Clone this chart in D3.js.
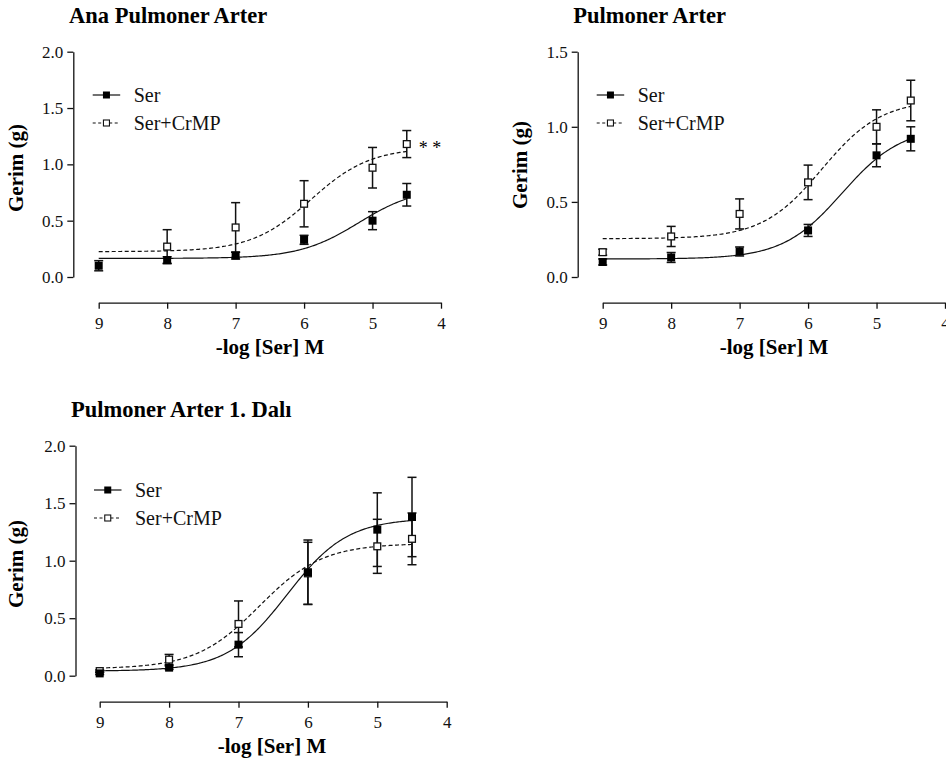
<!DOCTYPE html>
<html>
<head>
<meta charset="utf-8">
<script src="https://cdn.jsdelivr.net/npm/d3@7"></script>
<style>
  html, body { margin: 0; padding: 0; background: #fff; overflow: hidden; }
  svg { display: block; }
  svg text { font-family: "Liberation Serif", "Times New Roman", Times, serif; }
</style>
</head>
<body>
<svg id="chart" width="946" height="762"></svg>
<script>
// -log molar concentration of serotonin at each dose
const logDoses = [9, 8, 7, 6, 5, 4.5];
const xTickValues = [9, 8, 7, 6, 5, 4];

// Ana Pulmoner Arter — mean tension (g) and SEM
const anaSer = [0.10, 0.15, 0.19, 0.33, 0.50, 0.73];
const anaSerErr = [0.045, 0.03, 0.03, 0.04, 0.08, 0.10];
const anaCrmp = [null, 0.27, 0.44, 0.65, 0.97, 1.18];
const anaCrmpErr = [null, 0.15, 0.22, 0.205, 0.18, 0.12];
// sigmoidal fit parameters: bottom, top, pEC50, Hill slope
const anaSerFit = [0.165, 0.80, 5.2, 1.0];
const anaCrmpFit = [0.225, 1.15, 5.9, 1.0];

// Pulmoner Arter
const paSer = [0.10, 0.13, 0.17, 0.31, 0.81, 0.92];
const paSerErr = [0.02, 0.033, 0.03, 0.04, 0.076, 0.08];
const paCrmp = [0.165, 0.27, 0.42, 0.63, 1.00, 1.175];
const paCrmpErr = [0.02, 0.067, 0.10, 0.115, 0.113, 0.135];
const paSerFit = [0.12, 1.00, 5.5, 1.0];
const paCrmpFit = [0.255, 1.18, 5.8, 1.0];

// Pulmoner Arter 1. Dalı
const dalSer = [0.02, 0.07, 0.27, 0.90, 1.27, 1.38];
const dalSerErr = [0.01, 0.015, 0.105, 0.28, 0.32, 0.345];
const dalCrmp = [0.04, 0.14, 0.45, 0.89, 1.125, 1.19];
const dalCrmpErr = [0.01, 0.045, 0.20, 0.27, 0.235, 0.225];
const dalSerFit = [0.04, 1.37, 6.3, 1.0];
const dalCrmpFit = [0.06, 1.15, 6.7, 0.95];

const seriesNames = ["Ser", "Ser+CrMP"];
const yAxisTitle = "Gerim (g)";
const xAxisTitle = "-log [Ser] M";

const panels = [
  {
    title: "Ana Pulmoner Arter", yMax: 2.0, yTicks: [0, 0.5, 1.0, 1.5, 2.0],
    ser: anaSer, serErr: anaSerErr, crmp: anaCrmp, crmpErr: anaCrmpErr,
    serFit: anaSerFit, crmpFit: anaCrmpFit, mark: "* *",
    box: { axisX: 73.3, yTop: 51.7, yBottom: 277, axisY: 302.7, xLeft: 98.7, xRight: 441,
           titleX: 69, titleY: 23, yTitleX: 23, yTitleY: 168, xTitleX: 270, xTitleY: 354,
           legX: 92.7, legY: 95 }
  },
  {
    title: "Pulmoner Arter", yMax: 1.5, yTicks: [0, 0.5, 1.0, 1.5],
    ser: paSer, serErr: paSerErr, crmp: paCrmp, crmpErr: paCrmpErr,
    serFit: paSerFit, crmpFit: paCrmpFit, mark: null,
    box: { axisX: 577.7, yTop: 51.7, yBottom: 277, axisY: 302.7, xLeft: 602.7, xRight: 945,
           titleX: 573.3, titleY: 23, yTitleX: 527, yTitleY: 165, xTitleX: 774, xTitleY: 354,
           legX: 596.7, legY: 95 }
  },
  {
    title: "Pulmoner Arter 1. Dalı", yMax: 2.0, yTicks: [0, 0.5, 1.0, 1.5, 2.0],
    ser: dalSer, serErr: dalSerErr, crmp: dalCrmp, crmpErr: dalCrmpErr,
    serFit: dalSerFit, crmpFit: dalCrmpFit, mark: null,
    box: { axisX: 75.5, yTop: 445.7, yBottom: 675.7, axisY: 701.7, xLeft: 99.7, xRight: 446.7,
           titleX: 71, titleY: 417, yTitleX: 23, yTitleY: 564, xTitleX: 272, xTitleY: 753,
           legX: 94, legY: 490 }
  }
];

const FONT = "'Liberation Serif', 'Times New Roman', Times, serif";
const svg = d3.select("#chart");
svg.append("rect").attr("width", 946).attr("height", 762).attr("fill", "#fff");

// four-parameter logistic in -log units
function logistic(fit, p) {
  const [bottom, top, pEC50, hill] = fit;
  return bottom + (top - bottom) / (1 + Math.pow(10, hill * (p - pEC50)));
}

const MARK = 8;

function drawPanel(cfg) {
  const b = cfg.box;
  const g = svg.append("g");
  const x = d3.scaleLinear().domain([9, 4]).range([b.xLeft, b.xRight]);
  const y = d3.scaleLinear().domain([0, cfg.yMax]).range([b.yBottom, b.yTop]);

  // title
  g.append("text").attr("x", b.titleX).attr("y", b.titleY)
    .style("font-family", FONT).attr("font-weight", "bold").attr("font-size", 22.5)
    .text(cfg.title);

  // y axis
  const yAxis = g.append("g").attr("transform", `translate(${b.axisX},0)`)
    .call(d3.axisLeft(y).tickValues(cfg.yTicks).tickFormat(d3.format(".1f"))
      .tickSize(6).tickSizeOuter(0).tickPadding(4));
  // x axis
  const xAxis = g.append("g").attr("transform", `translate(0,${b.axisY})`)
    .call(d3.axisBottom(x).tickValues(xTickValues).tickFormat(d3.format("d"))
      .tickSize(6).tickSizeOuter(0).tickPadding(8));
  [yAxis, xAxis].forEach(a => {
    a.attr("font-family", FONT).attr("font-size", 17);
    a.selectAll("path, line").attr("stroke", "#111").attr("stroke-width", 1.3);
    a.selectAll("text").attr("fill", "#111").style("font-family", FONT);
  });

  // axis titles
  g.append("text")
    .attr("transform", `translate(${b.yTitleX},${b.yTitleY}) rotate(-90)`)
    .attr("text-anchor", "middle")
    .style("font-family", FONT).attr("font-weight", "bold").attr("font-size", 21)
    .text(yAxisTitle);
  g.append("text").attr("x", b.xTitleX).attr("y", b.xTitleY)
    .attr("text-anchor", "middle")
    .style("font-family", FONT).attr("font-weight", "bold").attr("font-size", 21)
    .text(xAxisTitle);

  // fitted curves
  const curveX = d3.range(9, 4.5 - 1e-9, -0.02).concat([4.5]);
  const line = d3.line().x(p => x(p)).curve(d3.curveLinear);
  g.append("path")
    .attr("d", line.y(p => y(logistic(cfg.crmpFit, p)))(curveX))
    .attr("fill", "none").attr("stroke", "#111").attr("stroke-width", 1.2)
    .attr("stroke-dasharray", "4,2.5");
  g.append("path")
    .attr("d", line.y(p => y(logistic(cfg.serFit, p)))(curveX))
    .attr("fill", "none").attr("stroke", "#111").attr("stroke-width", 1.2);

  // error bars
  function errorBars(vals, errs) {
    const pts = logDoses.map((p, i) => ({ p, v: vals[i], e: errs[i] })).filter(d => d.v != null);
    const eg = g.append("g").attr("stroke", "#111").attr("stroke-width", 1.5);
    pts.forEach(d => {
      const cx = x(d.p), y1 = y(d.v + d.e), y2 = y(d.v - d.e);
      eg.append("line").attr("x1", cx).attr("x2", cx).attr("y1", y1).attr("y2", y2);
      eg.append("line").attr("x1", cx - 4.5).attr("x2", cx + 4.5).attr("y1", y1).attr("y2", y1);
      eg.append("line").attr("x1", cx - 4.5).attr("x2", cx + 4.5).attr("y1", y2).attr("y2", y2);
    });
    return pts;
  }
  const crmpPts = errorBars(cfg.crmp, cfg.crmpErr);
  const serPts = errorBars(cfg.ser, cfg.serErr);

  // markers: open squares for Ser+CrMP, filled squares for Ser
  g.append("g").selectAll("rect").data(crmpPts).join("rect")
    .attr("x", d => x(d.p) - MARK / 2 + 0.6).attr("y", d => y(d.v) - MARK / 2 + 0.6)
    .attr("width", MARK - 1.2).attr("height", MARK - 1.2)
    .attr("fill", "#fff").attr("stroke", "#111").attr("stroke-width", 1.3);
  g.append("g").selectAll("rect").data(serPts).join("rect")
    .attr("x", d => x(d.p) - MARK / 2).attr("y", d => y(d.v) - MARK / 2)
    .attr("width", MARK).attr("height", MARK).attr("fill", "#000");

  // significance mark next to the highest dose
  if (cfg.mark) {
    const last = logDoses.length - 1;
    g.append("text").attr("x", x(logDoses[last]) + 12).attr("y", y(cfg.crmp[last]) + 10)
      .style("font-family", FONT).attr("font-size", 18)
      .text(cfg.mark);
  }

  // legend
  const leg = g.append("g").attr("transform", `translate(${b.legX},${b.legY})`);
  const rowGap = 28;
  seriesNames.forEach((name, i) => {
    const ry = i * rowGap;
    leg.append("line").attr("x1", 0).attr("x2", 27.5).attr("y1", ry).attr("y2", ry)
      .attr("stroke", "#111").attr("stroke-width", 1.2)
      .attr("stroke-dasharray", i === 1 ? "3,2.5" : null);
    if (i === 0) {
      leg.append("rect").attr("x", 13.75 - 3.5).attr("y", ry - 3.5)
        .attr("width", 7).attr("height", 7).attr("fill", "#000");
    } else {
      leg.append("rect").attr("x", 13.75 - 3).attr("y", ry - 3)
        .attr("width", 6).attr("height", 6).attr("fill", "#fff")
        .attr("stroke", "#111").attr("stroke-width", 1.1);
    }
    leg.append("text").attr("x", 41).attr("y", ry + 6.8)
      .style("font-family", FONT).attr("font-size", 20).attr("fill", "#111")
      .text(name);
  });
}

panels.forEach(drawPanel);
</script>
</body>
</html>
